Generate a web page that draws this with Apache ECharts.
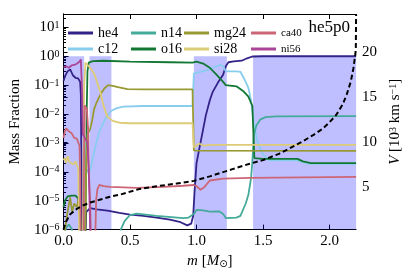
<!DOCTYPE html>
<html><head><meta charset="utf-8">
<script src="https://cdn.jsdelivr.net/npm/echarts@6/dist/echarts.min.js"></script>
<style>html,body{margin:0;padding:0;background:#fff}#c{width:411px;height:274px}</style>
</head><body><div id="c"></div>
<script>
// ---- data (mass coordinate m [Msun], mass fraction) ----
const speciesNames = ['he4','c12','n14','o16','mg24','si28','ca40','ni56'];
const speciesColors = ['#332288','#88CCEE','#44AA99','#117733','#999933','#DDCC77','#CC6677','#AA4499'];

const he4 = [[0,0.14],[0.01,0.2],[0.03,0.3],[0.05,0.35],[0.07,0.22],[0.09,0.18],[0.11,0.17],[0.125,0.13],[0.13,0.05],[0.135,1e-4],[0.14,1e-7],
  [0.16,1e-7],[0.17,4e-6],[0.2,5.5e-6],[0.25,5e-6],[0.33,4.5e-6],[0.42,3.8e-6],[0.5,3.3e-6],[0.6,3e-6],[0.7,2.6e-6],[0.8,2.2e-6],[0.88,1.8e-6],[0.93,1.4e-6],[0.96,1.6e-6],[0.975,3e-6],[0.985,2e-5],[1.0,2e-4],[1.02,6e-4],[1.05,3e-3],[1.07,0.009],[1.1,0.03],[1.12,0.056],[1.16,0.12],[1.2,0.23],[1.22,0.45],[1.24,0.62],[1.28,0.66],[1.34,0.7],[1.38,0.85],[1.42,0.98],[1.5,1.0],[2.2,1.0]];
const c12 = [[0.14,1e-7],[0.15,2e-6],[0.16,5e-5],[0.18,1.2e-4],[0.2,1.1e-4],[0.22,3e-4],[0.25,1.2e-3],[0.27,2.5e-3],[0.3,5e-3],[0.33,0.009],[0.36,0.013],[0.4,0.016],[0.45,0.018],[0.6,0.019],[0.97,0.019],[0.98,0.25],[1.02,0.28],[1.08,0.33],[1.12,0.4],[1.18,0.5],[1.2,0.45],[1.22,0.3],[1.3,0.3],[1.33,0.29],[1.36,0.16],[1.39,0.08],[1.41,0.03],[1.43,0.005],[1.46,0.001],[1.5,4e-4],[1.55,2.5e-4],[1.75,2.5e-4],[1.85,1.9e-4],[2.2,1.9e-4]];
const n14 = [[0,5e-7],[0.02,1.2e-6],[0.04,1.5e-6],[0.06,1.1e-6],[0.08,5e-7],[0.1,1e-7],
  [0.41,1e-7],[0.43,1e-6],[0.46,2e-6],[0.5,3.2e-6],[0.55,3.6e-6],[0.7,3e-6],[0.9,2.5e-6],[0.94,2.6e-6],[0.98,3.5e-6],[1.0,4.8e-6],[1.05,4.6e-6],[1.1,4.2e-6],[1.17,4.3e-6],[1.2,3.5e-6],[1.22,2.5e-6],[1.3,2.6e-6],[1.33,3e-6],[1.37,8e-6],[1.39,1.6e-5],[1.41,6e-5],[1.42,2.2e-4],[1.43,1.8e-3],[1.45,4e-3],[1.48,6.5e-3],[1.52,7.8e-3],[1.6,8.3e-3],[2.2,8.5e-3]];
const o16 = [[0,6e-6],[0.01,1e-5],[0.03,1.4e-5],[0.06,1.5e-5],[0.09,1.5e-5],[0.11,1.2e-5],[0.125,1.4e-5],[0.13,2e-6],[0.135,1e-7],
  [0.16,1e-7],[0.17,1e-4],[0.175,0.02],[0.18,0.3],[0.19,0.6],[0.22,0.68],[0.3,0.7],[0.5,0.65],[0.8,0.62],[0.97,0.6],[1.0,0.65],[1.05,0.56],[1.1,0.4],[1.15,0.23],[1.2,0.13],[1.22,0.1],[1.3,0.091],[1.35,0.063],[1.39,0.04],[1.42,0.019],[1.435,3e-4],[1.5,2.8e-4],[1.76,2.8e-4],[1.8,2.3e-4],[1.86,2.0e-4],[2.2,2.0e-4]];
const mg24 = [[0,1e-7],[0.01,1e-6],[0.03,4e-6],[0.05,1.3e-5],[0.065,4e-6],[0.08,8e-6],[0.1,6e-6],[0.115,1.2e-5],[0.125,2e-6],[0.13,1e-7],
  [0.16,1e-7],[0.17,1e-4],[0.18,2e-3],[0.2,3e-3],[0.215,6e-3],[0.23,0.015],[0.25,0.026],[0.28,0.05],[0.31,0.08],[0.335,0.1],[0.37,0.095],[0.41,0.085],[0.48,0.073],[0.6,0.071],[0.97,0.071],[0.98,5.5e-4],[1.0,5.4e-4],[2.2,5.3e-4]];
const si28 = [[0,2.5e-4],[0.01,3e-4],[0.02,2e-4],[0.03,3.5e-4],[0.045,2.2e-4],[0.06,2.5e-4],[0.075,1.8e-4],[0.09,2.3e-4],[0.1,2e-4],[0.11,1.3e-4],[0.115,1e-5],[0.12,1e-7],
  [0.145,1e-7],[0.15,1e-4],[0.155,0.1],[0.165,0.6],[0.2,0.4],[0.23,0.25],[0.26,0.1],[0.28,0.05],[0.3,0.02],[0.33,0.008],[0.37,0.0058],[0.42,0.005],[0.5,0.0048],[0.97,0.0048],[0.98,7e-4],[1.02,9.5e-4],[1.05,8e-4],[1.1,8.5e-4],[2.2,8.6e-4]];
const ca40 = [[0,1.5e-3],[0.01,2.5e-3],[0.02,3.2e-3],[0.04,2.5e-3],[0.06,2.2e-3],[0.08,1.5e-3],[0.1,1.4e-3],[0.11,1.6e-3],[0.12,8e-4],[0.125,1e-4],[0.13,1e-7],
  [0.15,1e-7],[0.155,1e-3],[0.16,0.02],[0.175,0.015],[0.185,0.003],[0.19,1e-4],[0.2,1e-5],[0.21,1e-7],
  [0.235,1e-7],[0.245,1e-5],[0.255,2.5e-5],[0.27,3.5e-5],[0.3,3.2e-5],[0.35,3e-5],[0.45,2.9e-5],[0.55,2.8e-5],[0.75,3e-5],[0.9,3.3e-5],[0.98,3.5e-5],[1.0,3.2e-5],[1.03,2.4e-5],[1.06,3e-5],[1.1,5e-5],[1.2,5.8e-5],[1.4,6.2e-5],[2.2,6.7e-5]];
const ni56 = [[0,0.42],[0.02,0.45],[0.04,0.4],[0.06,0.48],[0.08,0.5],[0.1,0.55],[0.12,0.65],[0.13,0.78],[0.135,0.8],[0.14,0.05],[0.145,2e-3],[0.16,1.5e-3],[0.18,1e-3],[0.19,1e-4],[0.2,1e-6],[0.205,1e-7]];

// velocity [10^3 km/s]
const velocity = [[0,0.3],[0.005,0.6],[0.02,1.2],[0.05,2.0],[0.1,2.6],[0.15,3.0],[0.2,3.3],[0.27,3.6],[0.35,3.95],[0.43,4.2],[0.57,4.8],[0.7,5.1],[0.85,5.4],[0.98,5.7],[1.1,6.2],[1.27,7.0],[1.4,7.6],[1.5,8.0],[1.62,8.7],[1.7,9.3],[1.8,10.1],[1.88,10.8],[1.95,11.5],[2.0,12.2],[2.05,13.0],[2.1,14.2],[2.13,15.3],[2.16,16.7],[2.18,18.2],[2.195,19.8],[2.198,20.5],[2.2,24.2]];

// shaded zones
const shadeStart = [0, 0.195, 0.98, 1.425];
const shadeEnd = [0.155, 0.36, 1.228, 2.2];

const xTicks = [0, 0.5, 1, 1.5, 2];
const vTicks = [5, 10, 15, 20];
const speciesData = [he4, c12, n14, o16, mg24, si28, ca40, ni56];

const SERIF = 'Liberation Serif';
const chart = echarts.init(document.getElementById('c'), null, {renderer: 'canvas'});

const series = [{
  type: 'line', data: [], silent: true, xAxisIndex: 0, yAxisIndex: 0,
  markArea: {
    silent: true,
    itemStyle: {color: 'rgba(0,0,255,0.25)'},
    data: shadeStart.map((s, i) => [{xAxis: s, yAxis: 1e-6}, {xAxis: shadeEnd[i], yAxis: 1}])
  }
}];
speciesNames.forEach((n, i) => {
  series.push({
    name: n, type: 'line', data: speciesData[i], showSymbol: false, symbol: 'none',
    xAxisIndex: 0, yAxisIndex: 0, clip: true,
    lineStyle: {color: speciesColors[i], width: 1.8}, itemStyle: {color: speciesColors[i]},
    z: 3
  });
});
series.push({
  name: 'V', type: 'line', data: velocity, showSymbol: false, symbol: 'none',
  xAxisIndex: 0, yAxisIndex: 1, clip: true,
  lineStyle: {color: '#000', width: 2, type: [5, 3]}, z: 4
});

const legendCols = [[0, 1, 63], [2, 3, 126], [4, 5, 179], [6, 7, 246]];
const legends = legendCols.map(c => ({
  orient: 'vertical', left: c[2], top: 21, itemWidth: 25, itemHeight: 3, itemGap: 2,
  icon: 'rect', data: [speciesNames[c[0]], speciesNames[c[1]]],
  textStyle: {fontFamily: SERIF, fontSize: c[2] > 200 ? 11 : 14, color: '#000', lineHeight: 14}
}));

const axisLineStyle = {lineStyle: {color: '#000', width: 1}};
chart.setOption({
  animation: false,
  backgroundColor: '#fff',
  title: {text: 'he5p0', right: 56, top: 14, textStyle: {fontFamily: SERIF, fontSize: 17, fontWeight: 'normal', color: '#000'}},
  legend: legends,
  grid: {left: 53, right: 50, top: 14, bottom: 42},
  xAxis: [{
    type: 'value', min: 0, max: 2.2, position: 'bottom',
    axisLine: axisLineStyle,
    axisTick: {inside: true, length: 5, customValues: xTicks, lineStyle: {color: '#000'}},
    axisLabel: {customValues: xTicks, formatter: v => v.toFixed(1), fontFamily: SERIF, fontSize: 15, color: '#000', margin: 4},
    splitLine: {show: false},
    name: '{i|m} [{i|M}{sub|\u2299}]', nameLocation: 'middle', nameGap: 21,
    nameTextStyle: {fontFamily: SERIF, fontSize: 15, color: '#000',
      rich: {i: {fontStyle: 'italic', fontFamily: SERIF, fontSize: 15}, sub: {fontSize: 10, fontFamily: 'DejaVu Sans', verticalAlign: 'bottom', padding: [6, 0, 0, 0]}}}
  }, {
    type: 'value', min: 0, max: 2.2, position: 'top',
    axisLine: axisLineStyle,
    axisTick: {inside: true, length: 5, customValues: xTicks, lineStyle: {color: '#000'}},
    axisLabel: {show: false}, splitLine: {show: false}
  }],
  yAxis: [{
    type: 'log', logBase: 10, min: 1e-6, max: 29, position: 'left',
    axisLine: {show: true, lineStyle: {color: '#000', width: 1}},
    axisTick: {inside: true, length: 5, lineStyle: {color: '#000'}},
    minorTick: {show: true, splitNumber: 9, length: 2.5, lineStyle: {color: '#000'}},
    splitLine: {show: false},
    axisLabel: {
      margin: 4,
      formatter: function (v) {
        const e = Math.log10(v), r = Math.round(e);
        if (Math.abs(e - r) > 1e-6) return '';
        return '{b|10}{s|' + (r < 0 ? '\u2212' + (-r) : r) + '}';
      },
      rich: {
        b: {fontFamily: SERIF, fontSize: 15, color: '#000', lineHeight: 14},
        s: {fontFamily: SERIF, fontSize: 10, color: '#000', lineHeight: 14, verticalAlign: 'top'}
      }
    },
    name: 'Mass Fraction', nameLocation: 'middle', nameGap: 36, nameRotate: 90,
    nameTextStyle: {fontFamily: SERIF, fontSize: 15, color: '#000'}
  }, {
    type: 'value', min: 0.3, max: 24.2, position: 'right',
    axisLine: {show: true, lineStyle: {color: '#000', width: 1}},
    axisTick: {inside: false, length: 4, customValues: vTicks, lineStyle: {color: '#000'}},
    axisLabel: {customValues: vTicks, fontFamily: SERIF, fontSize: 15, color: '#000', margin: 6},
    splitLine: {show: false},
    name: '{i|V} [10{sup|3} km s{sup|\u22121}]', nameLocation: 'middle', nameGap: 26, nameRotate: 90,
    nameTextStyle: {fontFamily: SERIF, fontSize: 15, color: '#000',
      rich: {i: {fontStyle: 'italic', fontFamily: SERIF, fontSize: 15}, sup: {fontFamily: SERIF, fontSize: 10, verticalAlign: 'top'}}}
  }],
  series: series
});
</script></body></html>
